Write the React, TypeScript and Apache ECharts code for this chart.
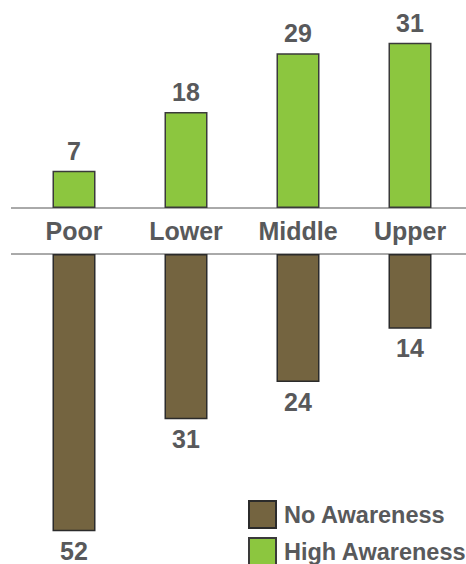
import React, { useEffect, useRef } from "react";
import * as echarts from "echarts";

const categories = ["Poor", "Lower", "Middle", "Upper"];
const highAwareness = [7, 18, 29, 31];
const noAwareness = [52, 31, 24, 14];
const seriesNames = ["No Awareness", "High Awareness"];

const TEXT = "#58595b";
const GREEN = "#8cc63f";
const BROWN = "#746440";
const FONT = "'Liberation Sans', Arial, sans-serif";

export default function App() {
  const ref = useRef<HTMLDivElement>(null);
  useEffect(() => {
    if (!ref.current) return;
    const chart = echarts.init(ref.current, undefined, { renderer: "svg" });
    const labelStyle = {
      show: true,
      fontSize: 25,
      lineHeight: 20,
      fontWeight: "bold" as const,
      color: TEXT,
      fontFamily: FONT,
    };
    chart.setOption({
      animation: false,
      textStyle: { fontFamily: FONT },
      grid: [
        { left: 18, right: 0, top: 0, height: 208 },
        { left: 18, right: 0, top: 254, height: 310 },
      ],
      xAxis: [
        {
          gridIndex: 0,
          type: "category",
          data: categories,
          axisLine: { show: false },
          axisTick: { show: false },
          axisLabel: {
            margin: 23,
            verticalAlign: "middle",
            fontSize: 25,
            fontWeight: "bold",
            color: TEXT,
            fontFamily: FONT,
          },
        },
        { gridIndex: 1, type: "category", data: categories, show: false },
      ],
      yAxis: [
        { gridIndex: 0, type: "value", min: 0, max: 39, show: false },
        { gridIndex: 1, type: "value", min: 0, max: 58.125, inverse: true, show: false },
      ],
      legend: {
        data: seriesNames,
        orient: "vertical",
        left: 248,
        top: 500,
        width: 260,
        height: 90,
        padding: 0,
        itemWidth: 27,
        itemHeight: 27,
        itemGap: 8,
        icon: "rect",
        textStyle: { fontSize: 23.5, fontWeight: "bold", color: TEXT, fontFamily: FONT, padding: [0, 0, 0, 3] },
      },
      graphic: [
        { type: "line", shape: { x1: 11, y1: 208, x2: 466, y2: 208 }, style: { stroke: "#555", lineWidth: 1 }, z: 0 },
        { type: "line", shape: { x1: 11, y1: 254, x2: 466, y2: 254 }, style: { stroke: "#555", lineWidth: 1 }, z: 0 },
      ],
      series: [
        {
          name: seriesNames[0],
          type: "bar",
          xAxisIndex: 1,
          yAxisIndex: 1,
          data: noAwareness,
          barWidth: 43,
          itemStyle: { color: BROWN, borderColor: "#2b2b2b", borderWidth: 1.5 },
          label: { ...labelStyle, position: "bottom", distance: 9.5 },
        },
        {
          name: seriesNames[1],
          type: "bar",
          xAxisIndex: 0,
          yAxisIndex: 0,
          data: highAwareness,
          barWidth: 43,
          itemStyle: { color: GREEN, borderColor: "#3a3a3a", borderWidth: 1.5 },
          label: { ...labelStyle, position: "top", distance: 10 },
        },
      ],
    });
    return () => chart.dispose();
  }, []);
  return (
    <div
      ref={ref}
      style={{ position: "absolute", left: 0, top: 0, width: 466, height: 564 }}
    />
  );
}
